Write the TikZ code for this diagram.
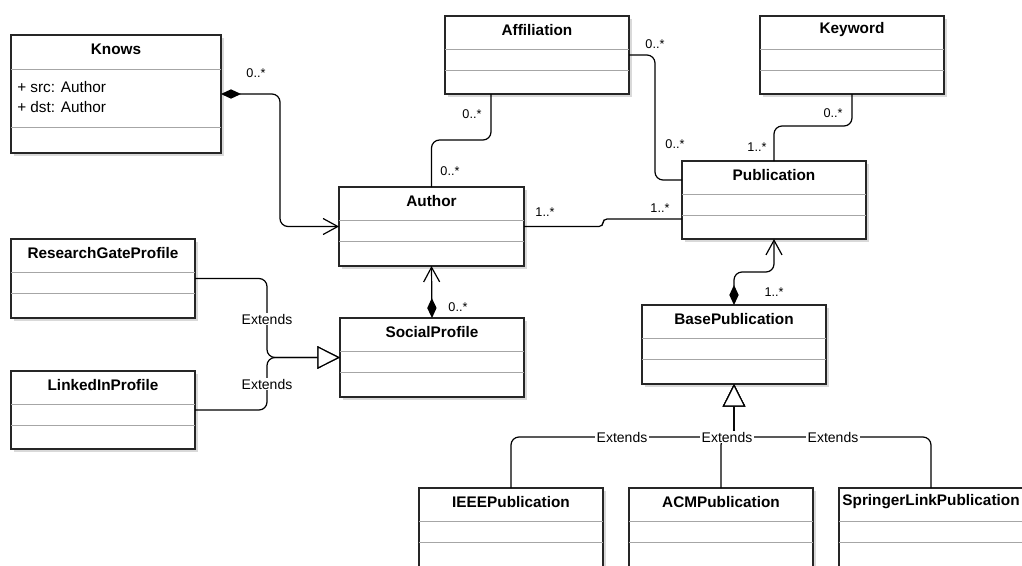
\documentclass[tikz,border=0pt]{standalone}
\usepackage{fontspec}
\setmainfont{Liberation Sans}
\usetikzlibrary{arrows.meta,calc,shadows}
\tikzset{
  umlbox/.style={draw=black!85, line width=0.9pt, fill=white, inner sep=0pt, outer sep=0pt,
    drop shadow={shadow xshift=2.25pt, shadow yshift=-2.25pt, fill=black!15, opacity=1}},
  umltitle/.style={font=\fontsize{11.5}{13}\selectfont\bfseries, inner sep=0pt},
  umlsep/.style={draw=black!35, line width=0.75pt},
  conn/.style={draw=black, line width=0.9pt, rounded corners=6},
  mult/.style={font=\fontsize{9.5}{11}\selectfont, inner sep=0pt},
  extlbl/.style={font=\fontsize{10.5}{12}\selectfont, fill=white, inner sep=1pt},
  attr/.style={font=\fontsize{11.5}{13}\selectfont, inner sep=0pt, anchor=west},
  diaarr/.style={{Diamond[length=15pt,width=7pt]}-{Straight Barb[length=11pt,width=12pt]}},
  gen/.style={-{Triangle[open,length=17pt,width=17pt,fill=white]}}
}
\newcommand\umlcls[6]{%
  \node[umlbox, minimum width=#4*0.75pt, minimum height=#5*0.75pt, anchor=north west] (#1) at (#2,#3) {};
  \node[umltitle] (#1-t) at ($(#1.north)+(0,14)$) {#6};
  \draw[umlsep] ($(#1.north west)+(0,33)$) -- ($(#1.north east)+(0,33)$);
  \draw[umlsep] ($(#1.north west)+(0,54)$) -- ($(#1.north east)+(0,54)$);
}
\begin{document}
\begin{tikzpicture}[x=0.75pt,y=-0.75pt]
\useasboundingbox (0,0) rectangle (1022,565);
\fill[white] (0,0) rectangle (1022,565);
\clip (0,0) rectangle (1022,565);

% Knows
\node[umlbox, minimum width=210*0.75pt, minimum height=118*0.75pt, anchor=north west] (knows) at (11,35) {};
\node[umltitle] (knows-t) at ($(knows.north)+(0,14)$) {Knows};
\draw[umlsep] ($(knows.north west)+(0,34)$) -- ($(knows.north east)+(0,34)$);
\draw[umlsep] ($(knows.north west)+(0,92)$) -- ($(knows.north east)+(0,92)$);
\node[attr] (knows-a1) at (17,87) {+ src: Author};
\node[attr] (knows-a2) at (17,107) {+ dst: Author};

\umlcls{affil}{445}{16}{184}{78}{Affiliation}
\umlcls{keyword}{760}{16}{184}{78}{Keyword}
\umlcls{author}{339}{187}{185}{79}{Author}
\umlcls{pub}{682}{161}{184}{78}{Publication}
\umlcls{rg}{11}{239}{184}{79}{ResearchGateProfile}
\umlcls{li}{11}{371}{184}{78}{LinkedInProfile}
\umlcls{social}{340}{318}{184}{79}{SocialProfile}
\umlcls{base}{642}{305}{184}{79}{BasePublication}
\umlcls{ieee}{419}{488}{184}{90}{IEEEPublication}
\umlcls{acm}{629}{488}{184}{90}{ACMPublication}
\umlcls{springer}{839}{488}{184}{90}{SpringerLinkPublication}

% connectors
\draw[conn, diaarr] (knows.east) -- ++(59,0) |- (author.west);
\draw[conn] ($(affil.south)+(-46,0)$) -- ++(0,46) -| (author.north);
\draw[conn] (affil.east) -- ++(26,0) |- ($(pub.north west)+(0,19)$);
\draw[conn, rounded corners=3] (author.east) -- ++(79,0) |- ($(pub.north west)+(0,58)$);
\draw[conn] (keyword.south) -- ++(0,32) -| (pub.north);
\draw[conn, diaarr] (social.north) -- (author.south);
\draw[conn, gen] (rg.east) -- ++(72,0) |- (social.west);
\draw[conn, gen] (li.east) -- ++(72,0) |- (social.west);
\draw[conn, diaarr] (base.north) -- ++(0,-33) -| (pub.south);
\draw[conn, gen] (ieee.north) -- ++(0,-51) -| (base.south);
\draw[conn, gen] (acm.north) -- ++(0,-51) -| (base.south);
\draw[conn, gen] (springer.north) -- ++(0,-51) -| (base.south);

% labels
\node[extlbl] (e1) at (267,319) {Extends};
\node[extlbl] (e2) at (267,384) {Extends};
\node[extlbl] (e3) at (622,437) {Extends};
\node[extlbl] (e4) at (727,437) {Extends};
\node[extlbl] (e5) at (833,437) {Extends};

\node[mult] (m1) at (256,73) {0..*};
\node[mult] (m2) at (472,114) {0..*};
\node[mult] (m3) at (450,171) {0..*};
\node[mult] (m4) at (655,44) {0..*};
\node[mult] (m5) at (675,144) {0..*};
\node[mult] (m6) at (545,212) {1..*};
\node[mult] (m7) at (660,208) {1..*};
\node[mult] (m8) at (833,113) {0..*};
\node[mult] (m9) at (757,147) {1..*};
\node[mult] (m10) at (458,307) {0..*};
\node[mult] (m11) at (774,292) {1..*};
\end{tikzpicture}
\end{document}
